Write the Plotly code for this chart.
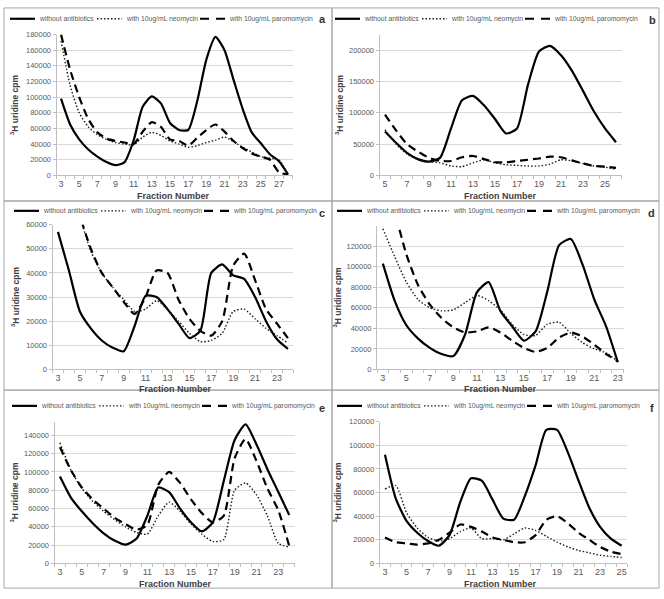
import plotly.graph_objects as go

# ---------------- data ----------------
SERIES_NAMES = ["without antibiotics", "with 10ug/mL neomycin", "with 10ug/mL paromomycin"]

a_frac = list(range(3, 29))
a_none = [98000, 65000, 46000, 33000, 24000, 17000, 13000, 17000, 45000, 88000, 101000, 92000, 67000,
          58000, 58000, 95000, 148000, 177000, 160000, 122000, 85000, 55000, 41000, 27000, 18000, 1000]
a_neo = [172000, 115000, 80000, 62000, 52000, 46000, 42000, 40000, 39000, 49000, 55000, 51000, 44000,
         40000, 36000, 38000, 42000, 45000, 49000, 43000, 36000, 30000, 24000, 22000, 20000, 1000]
a_par = [180000, 135000, 100000, 72000, 55000, 47000, 44000, 42000, 40000, 56000, 68000, 62000, 46000,
         44000, 38000, 48000, 58000, 65000, 56000, 44000, 35000, 28000, 24000, 20000, 4000, 1000]

b_frac = list(range(5, 27))
b_none = [70000, 52000, 36000, 26000, 22000, 28000, 75000, 120000, 127000, 112000, 90000, 67000, 75000,
          145000, 198000, 207000, 192000, 167000, 135000, 102000, 75000, 53000]
b_neo = [73000, 50000, 34000, 25000, 22000, 20000, 15000, 14000, 20000, 25000, 20000, 17000, 16000,
         15000, 15000, 18000, 25000, 23000, 19000, 15000, 13000, 10000]
b_par = [97000, 72000, 50000, 38000, 28000, 23000, 23000, 29000, 31000, 26000, 21000, 21000, 23000,
         25000, 27000, 30000, 29000, 24000, 19000, 15000, 14000, 12000]

c_frac = list(range(3, 25))
c_none = [57000, 41000, 24000, 17000, 12000, 9000, 7500, 18000, 30500, 30000, 25000, 19000, 13000,
          16000, 40000, 43500, 39000, 37500, 30000, 20000, 12500, 8500]
c_neo = [120000, 88000, 64000, 49000, 40000, 34000, 29000, 24000, 25000, 28500, 25000, 20000, 15000,
         11500, 12000, 15000, 24000, 25000, 21000, 17000, 14000, 11000]
c_par = [120000, 88000, 64000, 50000, 40000, 34000, 28000, 23000, 30000, 41000, 40000, 29000, 21000,
         16000, 14000, 20000, 43000, 48000, 37000, 25000, 19000, 13000]

d_frac = list(range(3, 24))
d_none = [103000, 67000, 43000, 30000, 21000, 15000, 13000, 34000, 75000, 85000, 57000, 42000, 28000,
          37000, 76000, 121000, 127000, 102000, 68000, 42000, 7000]
d_neo = [137000, 110000, 85000, 68000, 60000, 57000, 58000, 65000, 72000, 67000, 58000, 44000, 34000,
         33000, 44000, 46000, 35000, 26000, 20000, 16000, 8000]
d_par = [210000, 155000, 112000, 82000, 63000, 50000, 41000, 36000, 37000, 41000, 36000, 28000, 21000,
         17000, 21000, 31000, 36000, 32000, 24000, 15000, 8000]

e_frac = list(range(3, 25))
e_none = [95000, 72000, 57000, 44000, 33000, 25000, 20500, 27000, 52000, 83000, 78000, 60000, 45000,
          35000, 45000, 90000, 135000, 152000, 130000, 103000, 78000, 53000]
e_neo = [132000, 102000, 82000, 68000, 57000, 48000, 40000, 34000, 32000, 52000, 67000, 57000, 43000,
         32000, 24000, 26000, 80000, 88000, 75000, 52000, 22000, 18000]
e_par = [127000, 102000, 83000, 70000, 60000, 50000, 43000, 37000, 42000, 86000, 100000, 88000, 70000,
         55000, 45000, 52000, 115000, 136000, 112000, 82000, 58000, 19000]

f_frac = list(range(3, 26))
f_none = [92000, 55000, 36000, 26000, 19000, 15000, 24000, 52000, 72000, 70000, 54000, 38000, 37000,
          57000, 83000, 113000, 113000, 94000, 70000, 47000, 31000, 21000, 15000]
f_neo = [63000, 66000, 43000, 30000, 22000, 19000, 21000, 27000, 30000, 21000, 21000, 20000, 25000,
         30000, 28000, 23000, 18000, 14000, 11000, 9000, 7000, 6000, 5000]
f_par = [22000, 18000, 17000, 16000, 17000, 20000, 26000, 33000, 31000, 27000, 22000, 20000, 18000,
         18000, 24000, 37000, 40000, 34000, 26000, 20000, 14000, 10000, 8000]

PANEL_LABELS = ["a", "b", "c", "d", "e", "f"]
X_TITLE = "Fraction Number"
Y_TITLE = "<sup>3</sup>H uridine cpm"

# ---------------- layout helpers ----------------
W, H = 664, 599
def px(x): return x / W
def py(y): return 1 - y / H

FONT = "Liberation Sans"
GRAY = "#595959"
TITLE_C = "#404040"

panels = [
    dict(frac=a_frac, ys=[a_none, a_neo, a_par], xr=[2.5, 28.5], xpx=[56.5, 292.6], ymax=180000,
         ypx=[31, 174], dtick=20000, ytop=180000, leg=(10, 15), lab=(322, 15), ytx=15, xtl=(173, 194.5), xt0=3),
    dict(frac=b_frac, ys=[b_none, b_neo, b_par], xr=[4.5, 26.5], xpx=[379.5, 621.5], ymax=225000,
         ypx=[31, 174], dtick=50000, ytop=200000, leg=(335, 15), lab=(652, 16), ytx=340, xtl=(500, 194.5), xt0=5),
    dict(frac=c_frac, ys=[c_none, c_neo, c_par], xr=[2.5, 24.5], xpx=[52.5, 293.4], ymax=60000,
         ypx=[224, 371], dtick=10000, ytop=60000, leg=(14, 210), lab=(322, 212), ytx=15, xtl=(175, 391), xt0=3),
    dict(frac=d_frac, ys=[d_none, d_neo, d_par], xr=[2.5, 23.5], xpx=[377, 623.7], ymax=140000,
         ypx=[225, 371], dtick=20000, ytop=120000, leg=(337, 210), lab=(651, 212), ytx=338, xtl=(500, 391), xt0=3),
    dict(frac=e_frac, ys=[e_none, e_neo, e_par], xr=[2.5, 24.5], xpx=[54.5, 294.7], ymax=155000,
         ypx=[424, 568], dtick=20000, ytop=140000, leg=(12, 408), lab=(322, 410), ytx=15, xtl=(175, 589), xt0=3),
    dict(frac=f_frac, ys=[f_none, f_neo, f_par], xr=[2.5, 25.5], xpx=[379.6, 627], ymax=120000,
         ypx=[424, 568], dtick=20000, ytop=120000, leg=(337, 408), lab=(652, 410), ytx=338, xtl=(500, 589), xt0=3),
]

line_styles = [
    dict(color="black", width=2.2, dash="solid"),
    dict(color="#1a1a1a", width=1.4, dash="1.5px,2px"),
    dict(color="black", width=2.2, dash="8px,5px"),
]
legend_styles = [
    dict(color="black", width=2.2, dash="solid"),
    dict(color="#1a1a1a", width=1.4, dash="1.5px,2px"),
    dict(color="black", width=2.2, dash="9px,7px"),
]
# legend item offsets relative to legend start: (sample start, sample end, text start)
LEG_OFF = [(0, 25, 27), (87, 112, 114), (190, 215, 217)]

fig = go.Figure()
annotations = []
shapes = []
for i, p in enumerate(panels):
    n = i + 1
    xa = "x" if n == 1 else f"x{n}"
    ya = "y" if n == 1 else f"y{n}"
    for name, ys, st in zip(SERIES_NAMES, p["ys"], line_styles):
        fig.add_trace(go.Scatter(
            x=p["frac"], y=ys, name=name, mode="lines", xaxis=xa, yaxis=ya, showlegend=False,
            line=dict(color=st["color"], width=st["width"], dash=st["dash"], shape="spline", smoothing=0.6),
            hoverinfo="x+y+name"))
    xkey = "xaxis" if n == 1 else f"xaxis{n}"
    ykey = "yaxis" if n == 1 else f"yaxis{n}"
    fr = p["frac"]
    fig.layout[xkey] = dict(
        domain=[px(p["xpx"][0]), px(p["xpx"][1])], range=p["xr"], anchor=ya,
        tickvals=[v for v in fr if (v - p["xt0"]) % 2 == 0],
        ticks="", showgrid=False, zeroline=False, showline=True, linecolor="#bfbfbf", linewidth=1,
        tickfont=dict(family=FONT, size=9, color=GRAY), ticklabelstandoff=0,
        minor=dict(ticks="outside", tick0=0.5, dtick=1, ticklen=3, tickcolor="#bfbfbf", showgrid=False),
        fixedrange=True)
    fig.layout[ykey] = dict(
        domain=[py(p["ypx"][1]), py(p["ypx"][0])], range=[0, p["ymax"]], anchor=xa,
        tickvals=list(range(0, p["ytop"] + 1, p["dtick"])), tickformat="d",
        ticks="outside", ticklen=3, tickcolor="#bfbfbf",
        showgrid=True, gridcolor="#d9d9d9", gridwidth=1, zeroline=False,
        showline=True, linecolor="#bfbfbf", linewidth=1,
        tickfont=dict(family=FONT, size=7.5, color=GRAY), fixedrange=True)
    # legend drawn as line samples + text
    lx, ly = p["leg"]
    for name, st, (s0, s1, t0) in zip(SERIES_NAMES, legend_styles, LEG_OFF):
        shapes.append(dict(type="line", xref="paper", yref="paper", x0=px(lx + s0), x1=px(lx + s1),
                           y0=py(ly), y1=py(ly), line=dict(color=st["color"], width=st["width"], dash=st["dash"])))
        annotations.append(dict(text=name, x=px(lx + t0), y=py(ly), xref="paper", yref="paper",
                                xanchor="left", yanchor="middle", showarrow=False,
                                font=dict(family=FONT, size=6.8, color=GRAY)))
    annotations.append(dict(text=f"<b>{PANEL_LABELS[i]}</b>", x=px(p["lab"][0]), y=py(p["lab"][1]),
                            xref="paper", yref="paper", showarrow=False, xanchor="center", yanchor="middle",
                            font=dict(family=FONT, size=11, color="#333333")))
    annotations.append(dict(text=f"<b>{X_TITLE}</b>", x=px(p["xtl"][0]), y=py(p["xtl"][1]),
                            xref="paper", yref="paper", showarrow=False, xanchor="center", yanchor="middle",
                            font=dict(family=FONT, size=9, color=TITLE_C)))
    annotations.append(dict(text=f"<b>{Y_TITLE}</b>", x=px(p["ytx"]), y=py((p["ypx"][0] + p["ypx"][1]) / 2),
                            xref="paper", yref="paper", showarrow=False, textangle=-90,
                            xanchor="center", yanchor="middle",
                            font=dict(family=FONT, size=8.5, color=TITLE_C)))

# panel frames
for x0, x1 in [(4, 332), (332, 659)]:
    for y0, y1 in [(4, 200), (200, 392), (392, 593)]:
        shapes.append(dict(type="rect", xref="paper", yref="paper", x0=px(x0), x1=px(x1), y0=py(y1), y1=py(y0),
                           line=dict(color="#a6a6a6", width=1)))

fig.update_layout(width=W, height=H, margin=dict(l=0, r=0, t=0, b=0), paper_bgcolor="white",
                  plot_bgcolor="white", annotations=annotations, shapes=shapes,
                  font=dict(family=FONT, color=GRAY))
fig.write_html("out.html", config={"displayModeBar": False},
               post_script="document.body.style.margin='0px';")
